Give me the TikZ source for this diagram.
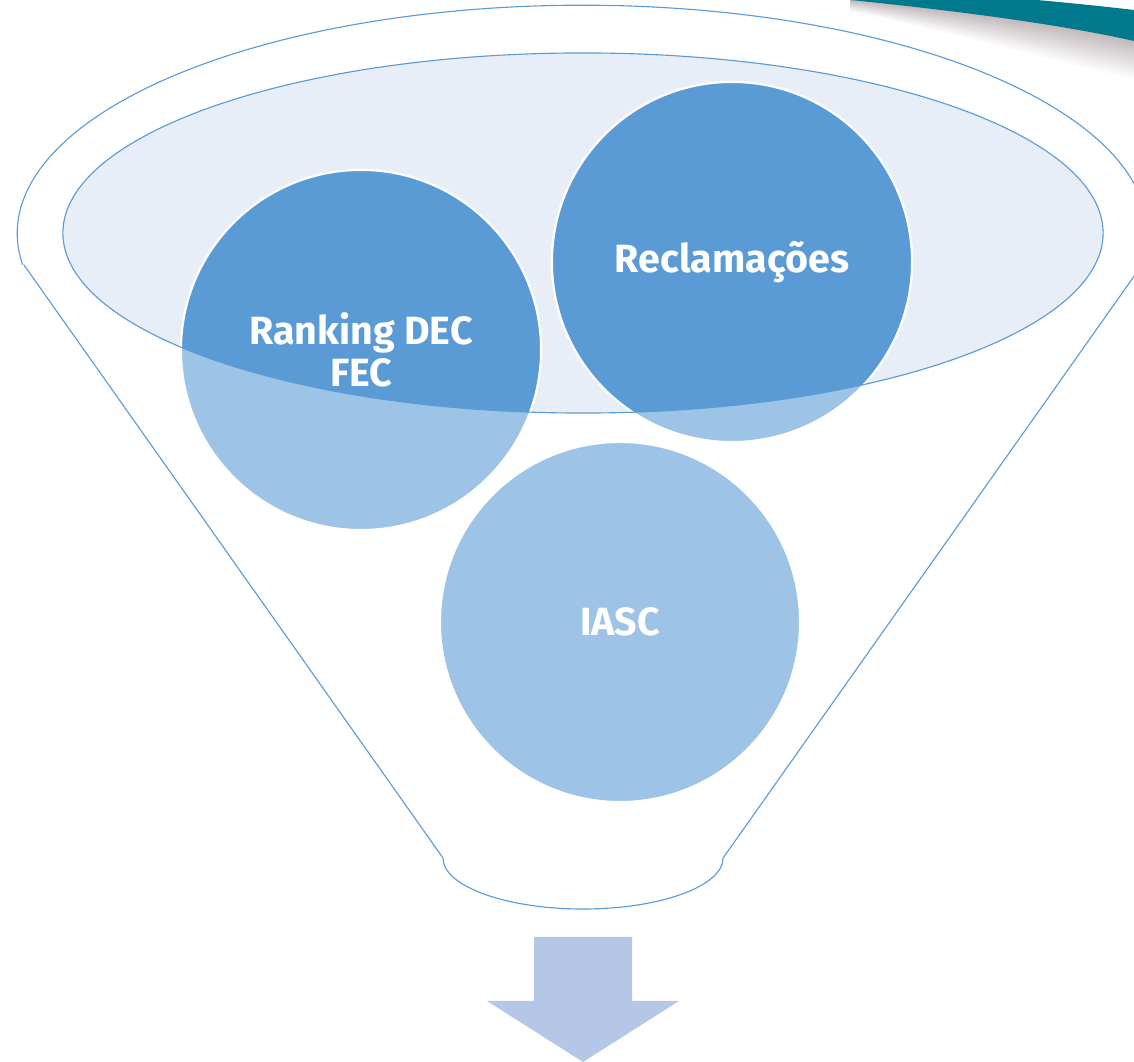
\documentclass[tikz,border=0pt]{standalone}
\usepackage{fontspec}
\setsansfont{Fira Sans}
\usetikzlibrary{positioning}
\definecolor{funnelblue}{HTML}{5B9BD5}
\definecolor{lightblue}{HTML}{9DC3E6}
\definecolor{paleblue}{HTML}{E7EEF8}
\definecolor{arrowblue}{HTML}{B4C7E7}
\definecolor{bandteal}{HTML}{00798C}
\definecolor{bandshadow}{HTML}{A89C9E}

\begin{document}
\begin{tikzpicture}[
      x=0.025cm, y=0.025cm,
      bubble/.style={
        circle,
        minimum size=9cm,
        inner sep=0pt,
        fill=lightblue,
        draw=white,
        line width=1.5pt
      },
      bubbletext/.style={
        text=white,
        align=center,
        font=\sffamily\bfseries\fontsize{28}{30}\selectfont
      },
      outline/.style={
        draw=funnelblue,
        line width=0.8pt
      }
    ]
    \useasboundingbox (0,0) rectangle (1134,-1062);
    \clip (0,0) rectangle (1134,-1062);

    % corner band
    \foreach \d in {40,38,...,2} {
      \pgfmathsetmacro{\c}{72*(1-\d/40)}
      \fill[bandshadow!\c] (850,0) .. controls (930,-8) and (1050,-22) .. (1134,-41)
        -- (1134,-41-\d) .. controls (1050,-22-\d) and (930,-8-0.5*\d) .. (850,-0.3*\d) -- cycle;
    }
    \fill[bandteal] (850,0) -- (1037,0) .. controls (1070,-3) and (1100,-6) .. (1134,-10)
      -- (1134,-41) .. controls (1050,-22) and (930,-8) .. (850,0) -- cycle;

    % funnel
    \coordinate (top) at (583,-233);
    \draw[outline] (24,-265) -- (443,-858)
      arc[start angle=180, end angle=360, x radius=3.5cm, y radius=1.275cm]
      -- (1142,-265)
      arc[start angle=-8, end angle=188, x radius=14.125cm, y radius=5.7cm];
    \fill[paleblue] (top) ellipse[x radius=13cm, y radius=4.5cm];

    \node[bubble] (rank) at (361,-350) {};
    \node[bubble] (recl) at (732,-262) {};
    \node[bubble] (iasc) at (620,-622) {};

    \begin{scope}
      \clip (top) ellipse[x radius=13cm, y radius=4.5cm];
      \foreach \b in {rank,recl}
        \filldraw[fill=funnelblue, draw=white, line width=1.5pt] (\b.center) circle[radius=4.5cm];
    \end{scope}
    \draw[outline] (top) ellipse[x radius=13cm, y radius=4.5cm];

    \node[bubbletext] (ranktxt) at (rank.center) {Ranking DEC\\FEC};
    \node[bubbletext] (recltxt) at (recl.center) {Reclamações};
    \node[bubbletext] (iasctxt) at (iasc.center) {IASC};

    % output arrow
    \fill[arrowblue] (534,-937) -- (632,-937) -- (632,-1001) -- (679,-1001)
      -- (583,-1062) -- (487,-1001) -- (534,-1001) -- cycle;

  \end{tikzpicture}
\end{document}
